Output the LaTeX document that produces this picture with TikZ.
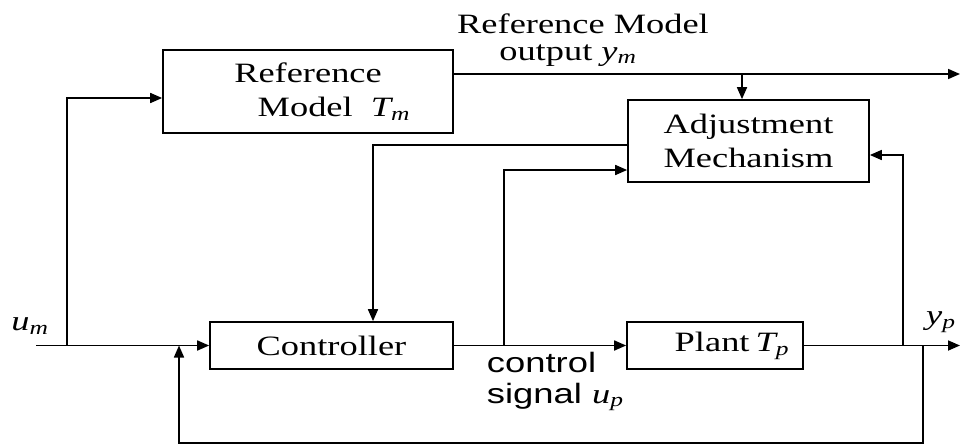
\documentclass[tikz,border=0pt]{standalone}
\usepackage{fontspec}
\usepackage{graphicx}
\setmainfont{Liberation Serif}
\newfontfamily\labelsans{Liberation Sans}
\usetikzlibrary{arrows.meta,calc}
% wide lettering used throughout the drawing
\newcommand\stretchtext[1]{\scalebox{1.3}[1]{#1}}
% italic symbol with italic subscript, e.g. T_m
\newcommand\symsub[2]{{\rmfamily\itshape #1\textsubscript{#2}}}

\begin{document}
\begin{tikzpicture}[x=1pt,y=-1pt,
  line width=1.7pt,
  sig/.style={-{Triangle[length=12pt,width=10pt]}},
  block/.style={draw, line width=1.7pt, inner sep=0pt, align=center,
    font=\fontsize{28}{34}\selectfont},
  lbl/.style={inner sep=0pt, font=\fontsize{28}{33}\selectfont},
  sanslbl/.style={inner sep=0pt, font=\labelsans\fontsize{28}{31}\selectfont},
]
\useasboundingbox (0,0) rectangle (960,445);

% blocks
\node[block, minimum width=290pt, minimum height=83pt] (RM) at (308,91.5)
  {\stretchtext{Reference}\\\hspace*{52pt}\stretchtext{Model\ \ \symsub{T}{m}}};
\node[block, minimum width=241pt, minimum height=82pt] (AM) at (748.5,141)
  {\stretchtext{Adjustment}\\\stretchtext{Mechanism}};
\node[block, minimum width=243pt, minimum height=47pt] (C) at (331.5,345.5)
  {\stretchtext{Controller}};
\node[block, minimum width=176pt, minimum height=47pt] (P) at (715,345.5)
  {\hspace*{34pt}\stretchtext{Plant\,\symsub{T}{p}}};

% branch points and bends
\coordinate (umin) at (36,345.5);
\coordinate (umtap) at (67,345.5);
\coordinate (refin) at (67,98);
\coordinate (fbjoin) at (179,345.5);
\coordinate (ymtap) at (742,74);
\coordinate (ymout) at (960,74);
\coordinate (adjturn) at (373,145);
\coordinate (uptap) at (504,345.5);
\coordinate (upturn) at (504,170);
\coordinate (yptap) at (903,345.5);
\coordinate (ypturn) at (903,155);
\coordinate (fbtap) at (923,345.5);
\coordinate (ypout) at (960,345.5);
\coordinate (fbright) at (923,443);
\coordinate (fbleft) at (179,443);

% signal paths
\draw[sig] (umin) -- (C.west);
\draw[sig] (umtap) -- (refin) -- (RM.west |- refin);
\draw (RM.east |- ymtap) -- (ymtap);
\draw[sig] (ymtap) -- (ymout);
\draw[sig] (ymtap) -- (AM.north -| ymtap);
\draw[sig] (AM.west |- adjturn) -- (adjturn) -- (C.north -| adjturn);
\draw[sig] (C.east) -- (P.west);
\draw[sig] (uptap) -- (upturn) -- (AM.west |- upturn);
\draw[sig] (P.east) -- (ypout);
\draw[sig] (yptap) -- (ypturn) -- (AM.east |- ypturn);
\draw[sig] (fbtap) -- (fbright) -- (fbleft) -- (fbjoin);

% labels
\node[lbl, anchor=base] (ymtitle) at (583,33) {\stretchtext{Reference Model}};
\node[lbl, anchor=base] (ymname) at (568,60) {\stretchtext{output \symsub{y}{m}}};
\node[lbl] (umname) at (30,326) {\stretchtext{\symsub{u}{m}}};
\node[lbl] (ypname) at (941,322) {\stretchtext{\symsub{y}{p}}};
\node[sanslbl, anchor=base west] (ctrlword) at (486,372) {\stretchtext{control}};
\node[sanslbl, anchor=base west] (signalword) at (486,403) {\stretchtext{signal \symsub{u}{p}}};
\end{tikzpicture}
\end{document}
